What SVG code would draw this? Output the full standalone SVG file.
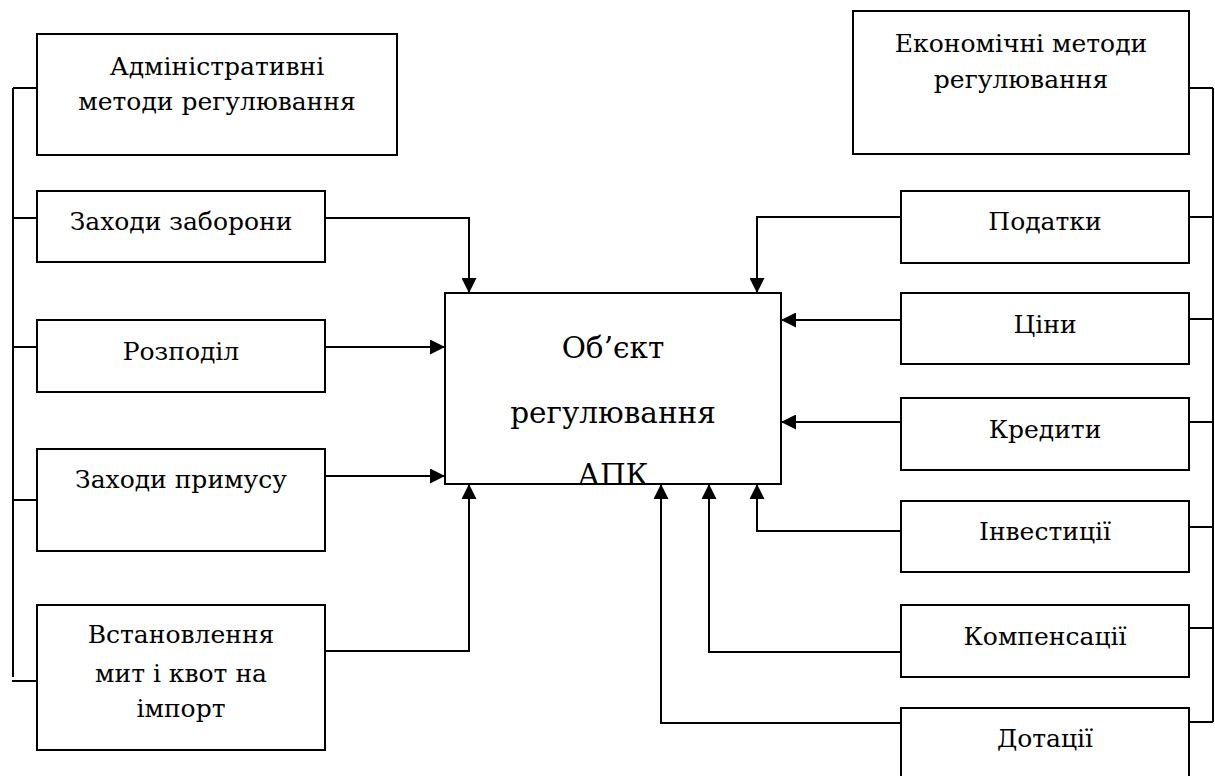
<svg xmlns="http://www.w3.org/2000/svg" width="1215" height="776" viewBox="0 0 1215 776">
<style>
.box{fill:#fff;stroke:#000;stroke-width:2}
.t{font-family:"DejaVu Serif",serif;font-size:25px;fill:#000;text-anchor:middle}
.big{font-size:29.5px}
.ln{fill:none;stroke:#000;stroke-width:2}
</style>
<defs>
<marker id="ah" markerUnits="userSpaceOnUse" markerWidth="15" markerHeight="15" refX="15" refY="7.5" orient="auto">
<path d="M0,0 L15,7.5 L0,15 z" fill="#000"/>
</marker>
</defs>
<rect width="1215" height="776" fill="#fff"/>
<g id="connectors">
<path class="ln" d="M13,88 V677 M13,88 H37 M13,218 H37 M13,347 H37 M13,500 H37 M12,681 H37"/>
<path class="ln" d="M1213,88 V722 M1189,88 H1213 M1189,217 H1213 M1189,319 H1213 M1189,422 H1213 M1189,527 H1213 M1189,628 H1213 M1189,722 H1213"/>
<path class="ln" marker-end="url(#ah)" d="M325,218 H469 V293"/>
<path class="ln" marker-end="url(#ah)" d="M325,347 H445"/>
<path class="ln" marker-end="url(#ah)" d="M325,476 H445"/>
<path class="ln" marker-end="url(#ah)" d="M325,651 H469 V484"/>
<path class="ln" marker-end="url(#ah)" d="M901,217 H757 V293"/>
<path class="ln" marker-end="url(#ah)" d="M901,320 H781"/>
<path class="ln" marker-end="url(#ah)" d="M901,422 H781"/>
<path class="ln" marker-end="url(#ah)" d="M901,531 H757 V484"/>
<path class="ln" marker-end="url(#ah)" d="M901,652 H709 V484"/>
<path class="ln" marker-end="url(#ah)" d="M901,723 H661 V484"/>
</g>
<g id="admin"><rect class="box" x="37" y="34" width="360" height="121"/><text class="t" x="217" y="75">Адміністративні</text><text class="t" x="217" y="110">методи регулювання</text></g>
<g id="zaborony"><rect class="box" x="37" y="191" width="288" height="71"/><text class="t" x="181" y="230">Заходи заборони</text></g>
<g id="rozpodil"><rect class="box" x="37" y="320" width="288" height="72"/><text class="t" x="181" y="360">Розподіл</text></g>
<g id="prymusu"><rect class="box" x="37" y="449" width="288" height="102"/><text class="t" x="181" y="488">Заходи примусу</text></g>
<g id="myta"><rect class="box" x="37" y="605" width="288" height="145"/><text class="t" x="181" y="643">Встановлення</text><text class="t" x="181" y="682">мит і квот на</text><text class="t" x="181" y="717">імпорт</text></g>
<g id="object"><rect class="box" x="445" y="293" width="336" height="191"/><text class="t big" x="613" y="358">Об’єкт</text><text class="t big" x="613" y="423">регулювання</text><text class="t big" x="613" y="485">АПК</text></g>
<g id="econ"><rect class="box" x="853" y="11" width="336" height="143"/><text class="t" x="1021" y="52">Економічні методи</text><text class="t" x="1021" y="88">регулювання</text></g>
<g id="podatky"><rect class="box" x="901" y="191" width="288" height="72"/><text class="t" x="1045" y="230">Податки</text></g>
<g id="tsiny"><rect class="box" x="901" y="293" width="288" height="71"/><text class="t" x="1045" y="333">Ціни</text></g>
<g id="kredyty"><rect class="box" x="901" y="398" width="288" height="72"/><text class="t" x="1045" y="438">Кредити</text></g>
<g id="investytsii"><rect class="box" x="901" y="501" width="288" height="71"/><text class="t" x="1045" y="540">Інвестиції</text></g>
<g id="kompensatsii"><rect class="box" x="901" y="605" width="288" height="72"/><text class="t" x="1045" y="645">Компенсації</text></g>
<g id="dotatsii"><rect class="box" x="901" y="708" width="288" height="80"/><text class="t" x="1045" y="747">Дотації</text></g>
</svg>
